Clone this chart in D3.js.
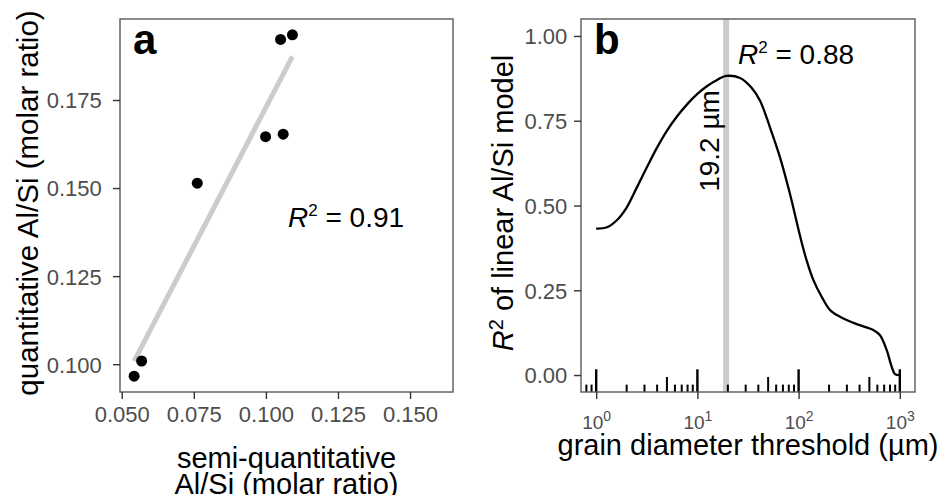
<!DOCTYPE html>
<html>
<head>
<meta charset="utf-8">
<script src="https://cdn.jsdelivr.net/npm/d3@7"></script>
<style>
  html, body { margin: 0; padding: 0; background: #ffffff; }
  svg { display: block; font-family: "Liberation Sans", Arial, Helvetica, sans-serif; }
</style>
</head>
<body>
<svg id="chart" width="944" height="495"></svg>
<script>
// ---------- Panel a data ----------
const semiQuantAlSi = [0.0543, 0.0569, 0.0762, 0.0999, 0.1060, 0.1051, 0.1092];
const quantAlSi     = [0.0966, 0.1009, 0.1514, 0.1646, 0.1653, 0.1922, 0.1935];
const xTicksA = [0.050, 0.075, 0.100, 0.125, 0.150];
const yTicksA = [0.100, 0.125, 0.150, 0.175];
const r2LabelA = "0.91";

// ---------- Panel b data ----------
const grainThreshold = [1.00, 1.26, 1.58, 2.00, 2.51, 3.16, 3.98, 5.01, 6.31, 7.94, 10.0, 12.6, 15.8, 19.2,
                        26.4, 34.3, 41.6, 52.2, 65.5, 82.2, 103, 120, 140, 169, 204, 256, 375, 546,
                        635, 741, 830, 895, 1000];
const r2Values       = [0.432, 0.435, 0.455, 0.494, 0.552, 0.612, 0.670, 0.721, 0.763, 0.799, 0.829, 0.853, 0.871, 0.882,
                        0.876, 0.847, 0.809, 0.730, 0.642, 0.534, 0.412, 0.338, 0.280, 0.231, 0.192, 0.172, 0.150, 0.133,
                        0.118, 0.074, 0.025, 0.003, 0.000];
const yTicksB = [0.00, 0.25, 0.50, 0.75, 1.00];
const xTicksB = [1, 10, 100, 1000];
const bestThreshold = 19.2;
const r2LabelB = "0.88";

const FONT = '"Liberation Sans", Arial, Helvetica, sans-serif';
const svg = d3.select("#chart");
const FONT_TICK = 22;
const TICK_COL = "#4d4d4d";
const BORDER_COL = "#5a5a5a";

function styleAxis(ax) {
  ax.attr("font-family", FONT).attr("font-size", FONT_TICK);
  ax.select(".domain").remove();
  ax.selectAll(".tick line").attr("stroke", "#333").attr("stroke-width", 1.4);
  ax.selectAll(".tick text").attr("fill", TICK_COL).style("font-size", FONT_TICK + "px");
}

// ================= Panel a =================
const pa = {left: 120, right: 453, top: 19, bottom: 392};
const xA = d3.scaleLinear().domain([0.0494, 0.1649]).range([pa.left, pa.right]);
const yA = d3.scaleLinear().domain([0.0921, 0.1980]).range([pa.bottom, pa.top]);

const gA = svg.append("g");

// regression line (least squares from the data)
const n = semiQuantAlSi.length;
const mx = d3.mean(semiQuantAlSi), my = d3.mean(quantAlSi);
let sxy = 0, sxx = 0;
for (let i = 0; i < n; i++) { sxy += (semiQuantAlSi[i]-mx)*(quantAlSi[i]-my); sxx += (semiQuantAlSi[i]-mx)**2; }
const slope = sxy / sxx, icpt = my - slope * mx;
const [x0, x1] = d3.extent(semiQuantAlSi);
gA.append("line")
  .attr("x1", xA(x0)).attr("y1", yA(icpt + slope*x0))
  .attr("x2", xA(x1)).attr("y2", yA(icpt + slope*x1))
  .attr("stroke", "#cccccc").attr("stroke-width", 5);

gA.selectAll("circle").data(semiQuantAlSi).join("circle")
  .attr("cx", d => xA(d)).attr("cy", (d, i) => yA(quantAlSi[i]))
  .attr("r", 5.5).attr("fill", "#000");

gA.append("rect").attr("x", pa.left).attr("y", pa.top)
  .attr("width", pa.right - pa.left).attr("height", pa.bottom - pa.top)
  .attr("fill", "none").attr("stroke", BORDER_COL).attr("stroke-width", 1.4);

// axes
const axXA = gA.append("g").attr("transform", `translate(0,${pa.bottom})`)
  .call(d3.axisBottom(xA).tickValues(xTicksA).tickFormat(d3.format(".3f")).tickSize(7).tickSizeOuter(0));
const axYA = gA.append("g").attr("transform", `translate(${pa.left},0)`)
  .call(d3.axisLeft(yA).tickValues(yTicksA).tickFormat(d3.format(".3f")).tickSize(7).tickSizeOuter(0));
styleAxis(axXA); styleAxis(axYA);
axXA.selectAll(".tick text").attr("y", 29.7).attr("dy", 0);
axYA.selectAll(".tick text").attr("x", -18.3).attr("dy", "0.36em");

// panel label, R2 text
gA.append("text").attr("x", 133).attr("y", 54).attr("font-size", 42).attr("font-weight", "bold").text("a");
const rA = gA.append("text").attr("x", 288).attr("y", 226.7).attr("font-size", 28);
rA.append("tspan").attr("font-style", "italic").text("R");
rA.append("tspan").attr("font-size", 17).attr("dy", -10.7).text("2");
rA.append("tspan").attr("dy", 10.7).text(" = " + r2LabelA);

// axis titles
gA.append("text").attr("transform", "translate(37.5,203) rotate(-90)")
  .attr("text-anchor", "middle").attr("font-size", 29.5).text("quantitative Al/Si (molar ratio)");
const xtA = gA.append("text").attr("text-anchor", "middle").attr("font-size", 29);
xtA.append("tspan").attr("x", (pa.left+pa.right)/2).attr("y", 468).text("semi-quantitative");
xtA.append("tspan").attr("x", (pa.left+pa.right)/2).attr("y", 494).text("Al/Si (molar ratio)");

// ================= Panel b =================
const pb = {left: 581, right: 915, top: 19, bottom: 392};
const xB = d3.scaleLog().domain([Math.pow(10, -0.15), Math.pow(10, 3.15)]).range([pb.left, pb.right]);
const yB = d3.scaleLinear().domain([-0.05, 1.05]).range([pb.bottom, pb.top]);
const gB = svg.append("g");

gB.append("line").attr("x1", xB(bestThreshold)).attr("x2", xB(bestThreshold))
  .attr("y1", pb.top).attr("y2", pb.bottom)
  .attr("stroke", "#cccccc").attr("stroke-width", 6);

const curveData = grainThreshold.map((g, i) => [g, r2Values[i]]);
gB.append("path").datum(curveData)
  .attr("d", d3.line().x(d => xB(d[0])).y(d => yB(d[1])).curve(d3.curveCatmullRom.alpha(0.5)))
  .attr("fill", "none").attr("stroke", "#000").attr("stroke-width", 2.3)
  .attr("stroke-linejoin", "round");

const logTicks = [];
for (let e = -1; e <= 3; e++) {
  for (let m = 1; m <= 9; m++) {
    const v = m * Math.pow(10, e);
    if (v >= xB.domain()[0] && v <= xB.domain()[1]) logTicks.push({v, m});
  }
}
gB.append("g").selectAll("line").data(logTicks).join("line")
  .attr("x1", d => xB(d.v)).attr("x2", d => xB(d.v))
  .attr("y1", pb.bottom)
  .attr("y2", d => pb.bottom - (d.m === 1 ? 22.7 : d.m === 5 ? 15 : 7.4))
  .attr("stroke", "#000").attr("stroke-width", d => d.m === 1 ? 2.4 : 2);

gB.append("rect").attr("x", pb.left).attr("y", pb.top)
  .attr("width", pb.right - pb.left).attr("height", pb.bottom - pb.top)
  .attr("fill", "none").attr("stroke", BORDER_COL).attr("stroke-width", 1.4);

const axXB = gB.append("g").attr("transform", `translate(0,${pb.bottom})`)
  .call(d3.axisBottom(xB).tickValues(xTicksB).tickFormat(() => "").tickSize(7).tickSizeOuter(0));
const axYB = gB.append("g").attr("transform", `translate(${pb.left},0)`)
  .call(d3.axisLeft(yB).tickValues(yTicksB).tickFormat(d3.format(".2f")).tickSize(7).tickSizeOuter(0));
styleAxis(axXB); styleAxis(axYB);
axYB.selectAll(".tick text").attr("x", -13.7).attr("dy", "0.36em");
axXB.selectAll(".tick text").attr("y", 37).attr("dy", 0).style("font-size", "19px")
  .each(function(d) {
    const t = d3.select(this);
    t.append("tspan").text("10");
    t.append("tspan").style("font-size", "14px").attr("dy", -8).text(String(Math.round(Math.log10(d))));
  });

gB.append("text").attr("x", 594).attr("y", 54).attr("font-size", 42).attr("font-weight", "bold").text("b");
const rB = gB.append("text").attr("x", 738).attr("y", 64).attr("font-size", 28);
rB.append("tspan").attr("font-style", "italic").text("R");
rB.append("tspan").attr("font-size", 17).attr("dy", -10.7).text("2");
rB.append("tspan").attr("dy", 10.7).text(" = " + r2LabelB);

gB.append("text").attr("transform", `translate(718.5,141) rotate(-90)`)
  .attr("text-anchor", "middle").attr("font-size", 28).text(bestThreshold + " µm");

const ytB = gB.append("text").attr("transform", "translate(513,203) rotate(-90)")
  .attr("text-anchor", "middle").attr("font-size", 29);
ytB.append("tspan").attr("font-style", "italic").text("R");
ytB.append("tspan").attr("font-size", 20).attr("dy", -10).text("2");
ytB.append("tspan").attr("dy", 10).text(" of linear Al/Si model");
gB.append("text").attr("x", (pb.left + pb.right)/2).attr("y", 455)
  .attr("text-anchor", "middle").attr("font-size", 29).text("grain diameter threshold (µm)");
</script>
</body>
</html>
